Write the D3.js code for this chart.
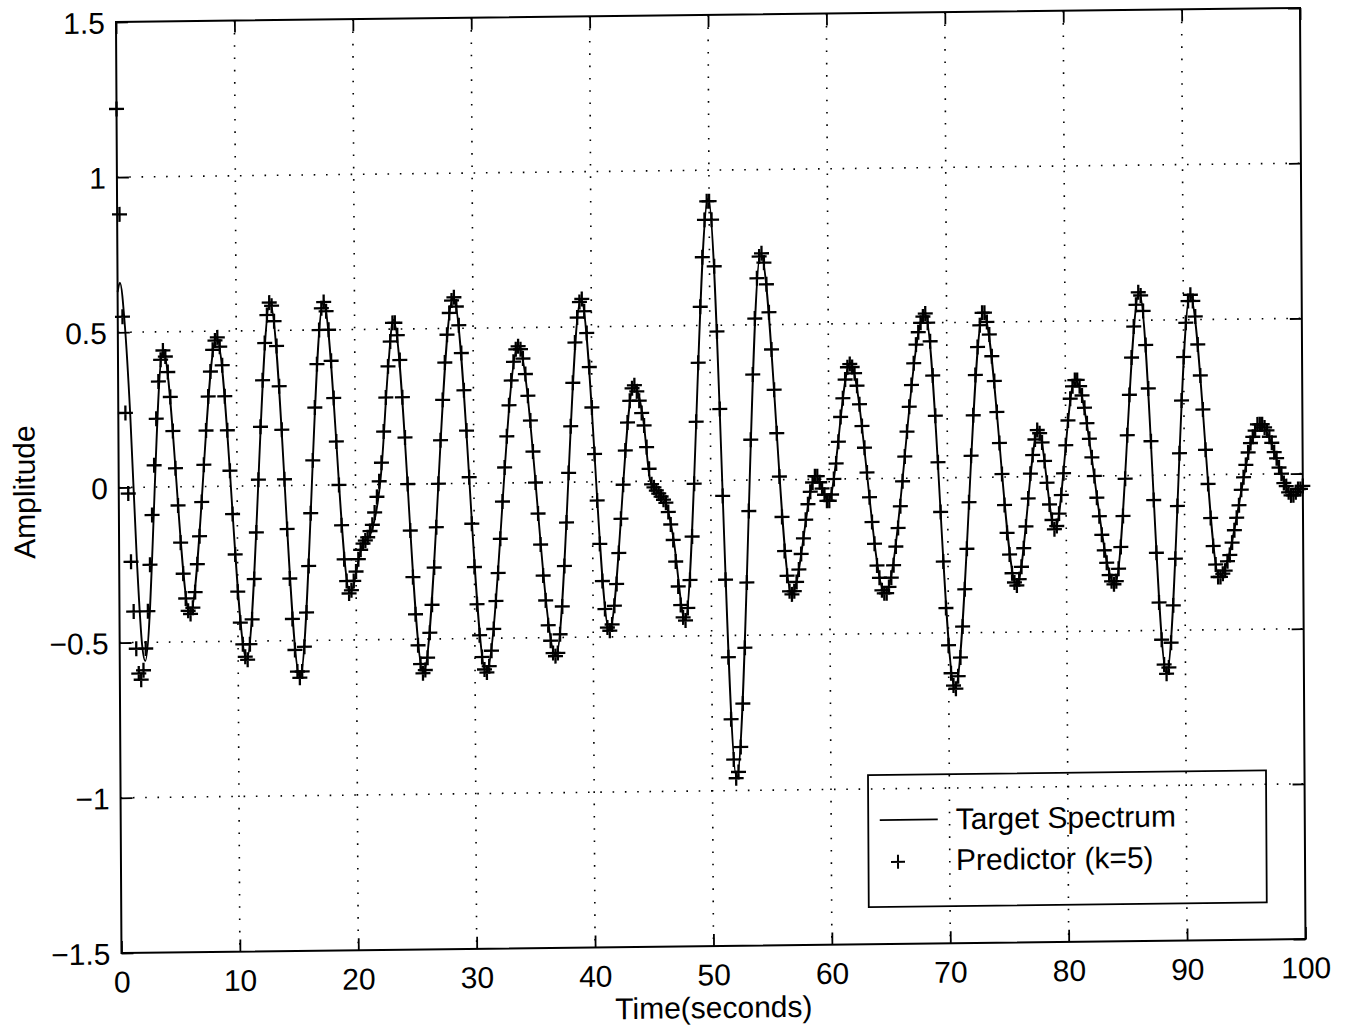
<!DOCTYPE html>
<html>
<head>
<meta charset="utf-8">
<script src="https://cdn.jsdelivr.net/npm/d3@7"></script>
<style>
  html, body { margin: 0; padding: 0; background: #fff; }
  svg { display: block; }
  text { font-family: "Liberation Sans", Arial, Helvetica, sans-serif; fill: #000; }
</style>
</head>
<body>
<svg id="chart" width="1345" height="1030"></svg>
<script>
// ---------- data ----------
// Target spectrum: turning points and shape points of the solid line (time s, amplitude)
const targetTimes = [0, 0.2, 0.6, 1.0, 1.5, 1.9, 2.15, 3.8, 5.95, 8.34, 10.72, 12.87, 15.21, 17.37,
  19.48, 20.5, 21.34, 22.2, 22.8, 23.27, 25.63, 28.35, 30.92, 33.81, 36.84, 39.13, 41.36, 43.56,
  44.33, 44.9, 45.6, 46.2, 46.8, 47.76, 49.93, 52.04, 54.33, 56.78, 58.89, 59.92, 61.82, 64.66,
  68.18, 70.52, 73.1, 75.78, 77.69, 79.05, 80.81, 84.09, 86.29, 88.4, 90.57, 92.9, 96.41, 99.2, 100];
const targetValues = [0.63, 0.66, 0.52, 0.24, -0.24, -0.51, -0.56, 0.44, -0.41, 0.48, -0.56, 0.59, -0.62, 0.59,
  -0.35, -0.20, -0.15, 0.05, 0.37, 0.53, -0.61, 0.60, -0.61, 0.44, -0.56, 0.59, -0.48, 0.31,
  0.20, 0.0, -0.04, -0.07, -0.18, -0.45, 0.91, -0.96, 0.73, -0.37, 0.01, -0.07, 0.37, -0.37,
  0.53, -0.68, 0.53, -0.35, 0.15, -0.17, 0.31, -0.35, 0.59, -0.64, 0.58, -0.33, 0.16, -0.07, -0.04];

// Predictor (k=5): one value every 0.2 s from t = 0 to t = 100 (10 values per row = 2 s)
const predictorStep = 0.2;
const predictorValues = [
  1.22, .88, .55, .24, -.02, -.24, -.40, -.52, -.60, -.62,
  -.59, -.52, -.40, -.25, -.09, .07, .22, .34, .41, .44,
  .42, .37, .29, .18, .06, -.06, -.18, -.28, -.36, -.40,
  -.41, -.39, -.34, -.25, -.16, -.05, .07, .18, .29, .37,
  .44, .47, .48, .45, .39, .29, .18, .05, -.09, -.22,
  -.34, -.44, -.51, -.55, -.56, -.51, -.43, -.30, -.15, .02,
  .19, .34, .46, .55, .59, .58, .53, .45, .32, .18,
  .02, -.14, -.30, -.43, -.53, -.60, -.62, -.60, -.52, -.41,
  -.26, -.09, .08, .25, .39, .50, .57, .59, .56, .50,
  .40, .28, .14, .00, -.13, -.24, -.31, -.35, -.34, -.31,
  -.28, -.24, -.21, -.19, -.18, -.17, -.15, -.13, -.09, -.04,
  .01, .07, .17, .28, .38, .46, .52, .52, .48, .40,
  .28, .15, .00, -.15, -.30, -.42, -.52, -.58, -.61, -.60,
  -.56, -.48, -.39, -.27, -.14, .00, .14, .27, .39, .48,
  .55, .59, .60, .57, .51, .42, .30, .17, .02, -.13,
  -.27, -.39, -.49, -.56, -.60, -.61, -.59, -.54, -.47, -.38,
  -.29, -.18, -.06, .05, .15, .25, .33, .39, .43, .44,
  .43, .40, .35, .28, .20, .10, .00, -.10, -.20, -.30,
  -.38, -.46, -.51, -.55, -.56, -.55, -.49, -.40, -.27, -.13,
  .03, .18, .32, .45, .53, .58, .59, .55, .48, .37,
  .24, .09, -.06, -.20, -.32, -.41, -.47, -.48, -.46, -.40,
  -.33, -.23, -.12, -.01, .10, .19, .26, .30, .31, .29,
  .26, .22, .18, .11, .04, -.01, -.02, -.03, -.04, -.05,
  -.06, -.07, -.10, -.14, -.19, -.26, -.34, -.40, -.44, -.45,
  -.41, -.32, -.18, -.01, .19, .38, .56, .72, .84, .90,
  .90, .84, .69, .48, .23, -.05, -.32, -.57, -.77, -.90,
  -.96, -.94, -.86, -.72, -.54, -.33, -.10, .13, .34, .52,
  .65, .72, .73, .70, .63, .54, .42, .29, .15, .01,
  -.12, -.23, -.31, -.36, -.37, -.36, -.33, -.29, -.24, -.19,
  -.13, -.08, -.04, -.01, .01, .01, -.01, -.03, -.05, -.07,
  -.07, -.05, .00, .05, .12, .20, .26, .32, .36, .37,
  .36, .34, .30, .24, .17, .10, .02, -.06, -.14, -.21,
  -.28, -.32, -.36, -.37, -.37, -.35, -.32, -.28, -.22, -.16,
  -.09, -.01, .07, .15, .23, .30, .37, .43, .47, .50,
  .52, .53, .50, .44, .33, .20, .05, -.11, -.27, -.42,
  -.54, -.63, -.67, -.68, -.64, -.58, -.48, -.36, -.23, -.08,
  .07, .20, .33, .42, .49, .53, .53, .50, .46, .39,
  .31, .21, .11, .01, -.09, -.18, -.25, -.31, -.34, -.35,
  -.33, -.29, -.23, -.16, -.07, .01, .07, .12, .15, .14,
  .11, .05, -.02, -.09, -.14, -.17, -.16, -.12, -.06, .01,
  .10, .18, .25, .29, .31, .31, .29, .26, .22, .17,
  .12, .06, .00, -.07, -.13, -.19, -.24, -.28, -.32, -.34,
  -.35, -.34, -.30, -.23, -.13, -.01, .13, .26, .38, .48,
  .55, .59, .58, .53, .42, .28, .11, -.08, -.25, -.41,
  -.53, -.61, -.64, -.62, -.54, -.42, -.27, -.10, .07, .24,
  .38, .49, .56, .58, .56, .51, .42, .32, .21, .08,
  -.03, -.14, -.23, -.29, -.33, -.33, -.32, -.31, -.28, -.26,
  -.22, -.18, -.14, -.10, -.05, -.01, .03, .07, .10, .12,
  .14, .16, .16, .16, .15, .14, .12, .10, .07, .05,
  .02, .00, -.03, -.04, -.06, -.07, -.07, -.06, -.05, -.05,
  -.04
];

const xTickValues = [0, 10, 20, 30, 40, 50, 60, 70, 80, 90, 100];
const yTickValues = [-1.5, -1, -0.5, 0, 0.5, 1, 1.5];
const xGridValues = [10, 20, 30, 40, 50, 60, 70, 80, 90];
const yGridValues = [-1, -0.5, 0, 0.5, 1];
const legendLabels = ["Target Spectrum", "Predictor (k=5)"];
const xAxisTitle = "Time(seconds)";
const yAxisTitle = "Amplitude";

// ---------- layout ----------
const W = 1184, H = 931;
const FONT = 30;

const svg = d3.select("#chart");
svg.append("rect").attr("width", 1345).attr("height", 1030).attr("fill", "#fff");

// the scanned figure is slightly skewed; draw in a local frame and skew it
const g = svg.append("g").attr("transform", "matrix(1,-0.01182,0.0059,1,116,22)");

const x = d3.scaleLinear().domain([0, 100]).range([0, W]);
const y = d3.scaleLinear().domain([-1.5, 1.5]).range([H, 0]);

// grid (dotted)
const grid = g.append("g").attr("stroke", "#000").attr("stroke-width", 1.6)
  .attr("stroke-dasharray", "1.6 10.7").attr("fill", "none");
grid.selectAll("line.vx").data(xGridValues).join("line")
  .attr("x1", d => x(d)).attr("x2", d => x(d)).attr("y1", 0).attr("y2", H);
grid.selectAll("line.hy").data(yGridValues).join("line")
  .attr("x1", 0).attr("x2", W).attr("y1", d => y(d)).attr("y2", d => y(d));

// axes with inward ticks on all four sides
const tickLen = 12;
const fmt = d3.format("~g");
const axB = g.append("g").attr("transform", `translate(0,${H})`)
  .call(d3.axisBottom(x).tickValues(xTickValues).tickSizeInner(-tickLen).tickSizeOuter(0)
    .tickPadding(18).tickFormat(fmt));
const axT = g.append("g")
  .call(d3.axisTop(x).tickValues(xTickValues).tickSizeInner(-tickLen).tickSizeOuter(0).tickFormat(""));
const axL = g.append("g")
  .call(d3.axisLeft(y).tickValues(yTickValues).tickSizeInner(-tickLen).tickSizeOuter(0)
    .tickPadding(11).tickFormat(fmt));
const axR = g.append("g").attr("transform", `translate(${W},0)`)
  .call(d3.axisRight(y).tickValues(yTickValues).tickSizeInner(-tickLen).tickSizeOuter(0).tickFormat(""));

[axB, axT, axL, axR].forEach(a => {
  a.select(".domain").remove();
  a.selectAll(".tick line").attr("stroke", "#000").attr("stroke-width", 1.8);
  a.selectAll(".tick text").attr("font-size", FONT)
    .attr("font-family", "Liberation Sans, Arial, Helvetica, sans-serif").attr("fill", "#000");
});
axL.selectAll(".tick text").attr("dy", "0.36em");

// frame
g.append("rect").attr("x", 0).attr("y", 0).attr("width", W).attr("height", H)
  .attr("fill", "none").attr("stroke", "#000").attr("stroke-width", 2);

// target line
const targetData = targetTimes.map((t, i) => ({ t, v: targetValues[i] }));
const line = d3.line().x(d => x(d.t)).y(d => y(d.v)).curve(d3.curveMonotoneX);
g.append("path").datum(targetData).attr("d", line)
  .attr("fill", "none").attr("stroke", "#000").attr("stroke-width", 1.9);

// predictor markers
const plusPath = "M-7.5,0H7.5M0,-7.5V7.5";
const predictorData = predictorValues.map((v, i) => ({ t: i * predictorStep, v }));
g.append("g").selectAll("path").data(predictorData).join("path")
  .attr("transform", d => `translate(${x(d.t)},${y(d.v)})`)
  .attr("d", plusPath).attr("fill", "none").attr("stroke", "#000").attr("stroke-width", 2.3);

// axis titles
g.append("text").attr("x", W / 2).attr("y", 1003).attr("text-anchor", "middle")
  .attr("font-size", FONT).text(xAxisTitle);
g.append("text").attr("transform", "translate(-84,469) rotate(-90)").attr("text-anchor", "middle")
  .attr("font-size", FONT).text(yAxisTitle);

// legend
const lg = g.append("g");
lg.append("rect").attr("x", 747.5).attr("y", 762).attr("width", 398).attr("height", 132)
  .attr("fill", "none").attr("stroke", "#000").attr("stroke-width", 1.8);
lg.append("line").attr("x1", 759).attr("x2", 817).attr("y1", 807).attr("y2", 807)
  .attr("stroke", "#000").attr("stroke-width", 1.8);
lg.append("path").attr("transform", "translate(777,849)").attr("d", "M-7,0H7M0,-7V7")
  .attr("fill", "none").attr("stroke", "#000").attr("stroke-width", 2);
lg.selectAll("text").data(legendLabels).join("text")
  .attr("x", 835).attr("y", (d, i) => i === 0 ? 817 : 858)
  .attr("font-size", FONT).text(d => d);
</script>
</body>
</html>
